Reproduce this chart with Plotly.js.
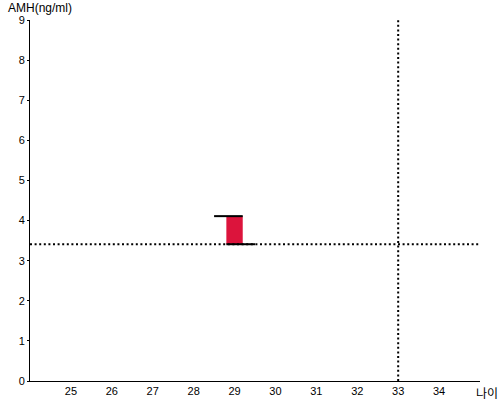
<!DOCTYPE html>
<html><head><meta charset="utf-8">
<script src="https://cdn.plot.ly/plotly-3.0.1.min.js"></script>
<style>body{margin:0;padding:0;background:#fff}#c{width:500px;height:400px}</style>
</head><body><div id="c"></div>
<script>
// Data
var ageValues = [29];
var amhLow = [3.41];
var amhHigh = [4.11];
var barWidth = 0.4;
var topCapX = [28.5, 29.2];
var bottomCapX = [28.8, 29.5];
var refAMH = 3.41;
var refAge = 33;
var xTicks = [25, 26, 27, 28, 29, 30, 31, 32, 33, 34];
var yTicks = [0, 1, 2, 3, 4, 5, 6, 7, 8, 9];
var xRange = [24, 35];
var yRange = [0, 9];

var traces = [
  {type:'bar', x: ageValues, base: amhLow, y: amhHigh.map(function(h,i){return h-amhLow[i];}),
   width: barWidth, marker:{color:'#DC143C'}, hoverinfo:'skip'},
  {type:'scatter', mode:'lines', x: xRange, y:[refAMH, refAMH],
   line:{color:'#000', width:2, dash:'2px,2.6px'}, hoverinfo:'skip'},
  {type:'scatter', mode:'lines', x:[refAge, refAge], y: yRange,
   line:{color:'#000', width:2, dash:'2px,2.6px'}, hoverinfo:'skip'},
  {type:'scatter', mode:'lines', x: topCapX, y:[amhHigh[0], amhHigh[0]],
   line:{color:'#000', width:2}, hoverinfo:'skip'},
  {type:'scatter', mode:'lines', x: bottomCapX, y:[amhLow[0], amhLow[0]],
   line:{color:'#000', width:2}, hoverinfo:'skip'}
];

var font = {family:'"Liberation Sans", Arial, sans-serif', size:11, color:'#000'};
var layout = {
  width:500, height:400,
  margin:{l:30, r:20, t:20, b:19, pad:0},
  showlegend:false,
  paper_bgcolor:'#fff', plot_bgcolor:'#fff',
  font: font,
  xaxis:{range:xRange, tickvals:xTicks, ticktext:xTicks.map(String), showgrid:false, zeroline:false,
         showline:true, linecolor:'#000', linewidth:1, ticks:'', tickfont:font, fixedrange:true},
  yaxis:{range:yRange, tickvals:yTicks, ticktext:yTicks.map(String), showgrid:false, zeroline:false,
         showline:true, linecolor:'#000', linewidth:1, ticks:'outside', ticklen:2, tickcolor:'#000',
         tickfont:font, fixedrange:true},
  annotations:[
    {text:'AMH(ng/ml)', xref:'paper', yref:'paper', x:-0.053, y:1.0, yshift:21, xanchor:'left', yanchor:'top',
     showarrow:false, font:{family:font.family, size:12, color:'#000'}},
    {text:'나이', xref:'paper', yref:'paper', x:1.0, y:0, xshift:-6, yshift:-11, xanchor:'left', yanchor:'middle',
     showarrow:false, font:{family:'"Noto Sans CJK KR", sans-serif', size:12, color:'#000'}}
  ]
};
Plotly.newPlot('c', traces, layout, {staticPlot:true});
</script></body></html>
